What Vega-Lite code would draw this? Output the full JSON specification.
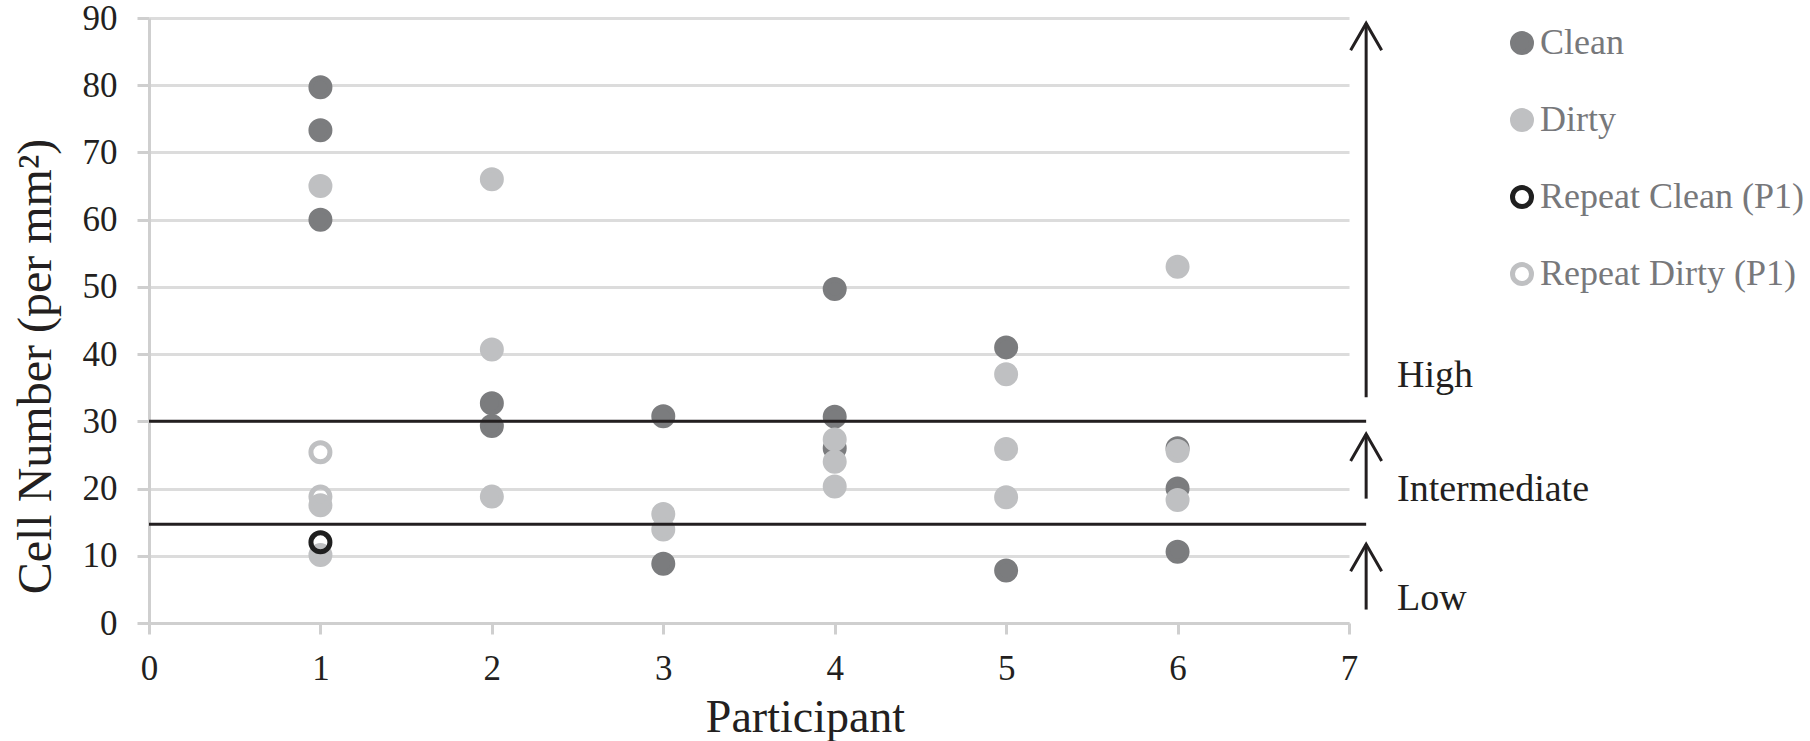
{
  "$schema": "https://vega.github.io/schema/vega-lite/v6.json",
  "width": 1200,
  "height": 605,
  "autosize": "none",
  "padding": {"left": 149, "top": 18, "right": 461, "bottom": 118},
  "background": "white",
  "config": {"view": {"stroke": null}, "font": "Liberation Serif"},
  "layer": [
    {
      "data": {
        "values": [
          {"participant": 1, "cells": 79.7, "series": "Clean"},
          {"participant": 1, "cells": 73.3, "series": "Clean"},
          {"participant": 1, "cells": 60.0, "series": "Clean"},
          {"participant": 2, "cells": 32.7, "series": "Clean"},
          {"participant": 2, "cells": 29.3, "series": "Clean"},
          {"participant": 3, "cells": 30.75, "series": "Clean"},
          {"participant": 3, "cells": 8.8, "series": "Clean"},
          {"participant": 4, "cells": 49.7, "series": "Clean"},
          {"participant": 4, "cells": 30.7, "series": "Clean"},
          {"participant": 4, "cells": 26.0, "series": "Clean"},
          {"participant": 5, "cells": 41.0, "series": "Clean"},
          {"participant": 5, "cells": 7.8, "series": "Clean"},
          {"participant": 6, "cells": 26.0, "series": "Clean"},
          {"participant": 6, "cells": 20.0, "series": "Clean"},
          {"participant": 6, "cells": 10.6, "series": "Clean"},
          {"participant": 1, "cells": 65.0, "series": "Dirty"},
          {"participant": 1, "cells": 17.5, "series": "Dirty"},
          {"participant": 1, "cells": 10.1, "series": "Dirty"},
          {"participant": 2, "cells": 66.0, "series": "Dirty"},
          {"participant": 2, "cells": 40.7, "series": "Dirty"},
          {"participant": 2, "cells": 18.8, "series": "Dirty"},
          {"participant": 3, "cells": 16.2, "series": "Dirty"},
          {"participant": 3, "cells": 13.9, "series": "Dirty"},
          {"participant": 4, "cells": 27.3, "series": "Dirty"},
          {"participant": 4, "cells": 24.0, "series": "Dirty"},
          {"participant": 4, "cells": 20.3, "series": "Dirty"},
          {"participant": 5, "cells": 37.0, "series": "Dirty"},
          {"participant": 5, "cells": 25.9, "series": "Dirty"},
          {"participant": 5, "cells": 18.7, "series": "Dirty"},
          {"participant": 6, "cells": 53.0, "series": "Dirty"},
          {"participant": 6, "cells": 25.6, "series": "Dirty"},
          {"participant": 6, "cells": 18.3, "series": "Dirty"},
          {"participant": 1, "cells": 12.0, "series": "Repeat Clean (P1)"},
          {"participant": 1, "cells": 25.4, "series": "Repeat Dirty (P1)"},
          {"participant": 1, "cells": 18.8, "series": "Repeat Dirty (P1)"}
        ]
      },
      "mark": {"type": "point", "filled": true, "shape": "circle", "size": 361, "strokeWidth": 5, "opacity": 1},
      "encoding": {
        "x": {
          "field": "participant", "type": "quantitative",
          "scale": {"domain": [0, 7], "nice": false},
          "axis": {
            "values": [0, 1, 2, 3, 4, 5, 6, 7], "grid": false, "format": "d",
            "title": "Participant", "titleFont": "Liberation Serif", "titleFontSize": 46, "titleFontWeight": "normal",
            "titleColor": "#231f20", "titleX": 656, "titleY": 108, "titleBaseline": "alphabetic", "titleAlign": "center",
            "labelFont": "Liberation Serif", "labelFontSize": 35, "labelColor": "#231f20", "labelPadding": 17,
            "labelFlush": false, "labelOverlap": false,
            "tickSize": 11, "tickColor": "#cfcfcf", "tickWidth": 3,
            "domainColor": "#cfcfcf", "domainWidth": 3
          }
        },
        "y": {
          "field": "cells", "type": "quantitative",
          "scale": {"domain": [0, 90], "nice": false},
          "axis": {
            "values": [0, 10, 20, 30, 40, 50, 60, 70, 80, 90], "grid": true, "format": "d",
            "gridColor": "#dcdcdc", "gridWidth": 3,
            "title": "Cell Number (per mm²)", "titleFont": "Liberation Serif", "titleFontSize": 48, "titleFontWeight": "normal",
            "titleColor": "#231f20", "titleX": -99, "titleY": 348, "titleAngle": -90, "titleBaseline": "alphabetic", "titleAlign": "center",
            "labelFont": "Liberation Serif", "labelFontSize": 35, "labelColor": "#231f20", "labelPadding": 20,
            "labelFlush": false, "labelOverlap": false,
            "tickSize": 12, "tickColor": "#cfcfcf", "tickWidth": 3,
            "domainColor": "#cfcfcf", "domainWidth": 3
          }
        },
        "fill": {
          "field": "series", "type": "nominal",
          "scale": {"domain": ["Clean", "Dirty", "Repeat Clean (P1)", "Repeat Dirty (P1)"], "range": ["#7b7c7e", "#bfc0c2", "transparent", "transparent"]},
          "legend": {
            "orient": "none", "legendX": 1355, "legendY": 7, "title": null, "padding": 0,
            "labelFont": "Liberation Serif", "labelFontSize": 36, "labelColor": "#77787b", "labelOffset": 0, "labelLimit": 0,
            "symbolType": "circle", "symbolSize": 361, "symbolStrokeWidth": 5, "rowPadding": 37
          }
        },
        "stroke": {
          "field": "series", "type": "nominal",
          "scale": {"domain": ["Clean", "Dirty", "Repeat Clean (P1)", "Repeat Dirty (P1)"], "range": ["#7b7c7e", "#bfc0c2", "#1f1f1f", "#bfc0c2"]},
          "legend": {
            "orient": "none", "legendX": 1355, "legendY": 7, "title": null, "padding": 0,
            "labelFont": "Liberation Serif", "labelFontSize": 36, "labelColor": "#77787b", "labelOffset": 0, "labelLimit": 0,
            "symbolType": "circle", "symbolSize": 361, "symbolStrokeWidth": 5, "rowPadding": 37
          }
        }
      }
    },
    {
      "data": {"values": [{"threshold": 30}, {"threshold": 14.7}]},
      "mark": {"type": "rule", "color": "#231f20", "strokeWidth": 3},
      "encoding": {
        "y": {"field": "threshold", "type": "quantitative"},
        "x": {"datum": 0},
        "x2": {"datum": 7.1}
      }
    },
    {
      "data": {"name": "levels", "values": [
        {"level": "High", "lo": 33.6, "hi": 89.2, "labelAt": 35.1},
        {"level": "Intermediate", "lo": 18.5, "hi": 28.1, "labelAt": 18.1},
        {"level": "Low", "lo": 2.0, "hi": 11.7, "labelAt": 1.9}
      ]},
      "layer": [
        {
          "mark": {"type": "rule", "color": "#231f20", "strokeWidth": 3},
          "encoding": {
            "x": {"datum": 7.1},
            "y": {"field": "lo", "type": "quantitative"},
            "y2": {"field": "hi"}
          }
        },
        {
          "mark": {"type": "point", "filled": false, "shape": "M-1,1.74L0,0L1,1.74", "size": 961, "strokeWidth": 3, "color": "#231f20", "opacity": 1},
          "encoding": {
            "x": {"datum": 7.1},
            "y": {"field": "hi", "type": "quantitative"}
          }
        },
        {
          "mark": {"type": "text", "font": "Liberation Serif", "fontSize": 38, "color": "#231f20", "align": "left", "baseline": "alphabetic"},
          "encoding": {
            "x": {"datum": 7.28},
            "y": {"field": "labelAt", "type": "quantitative"},
            "text": {"field": "level"}
          }
        }
      ]
    }
  ]
}
